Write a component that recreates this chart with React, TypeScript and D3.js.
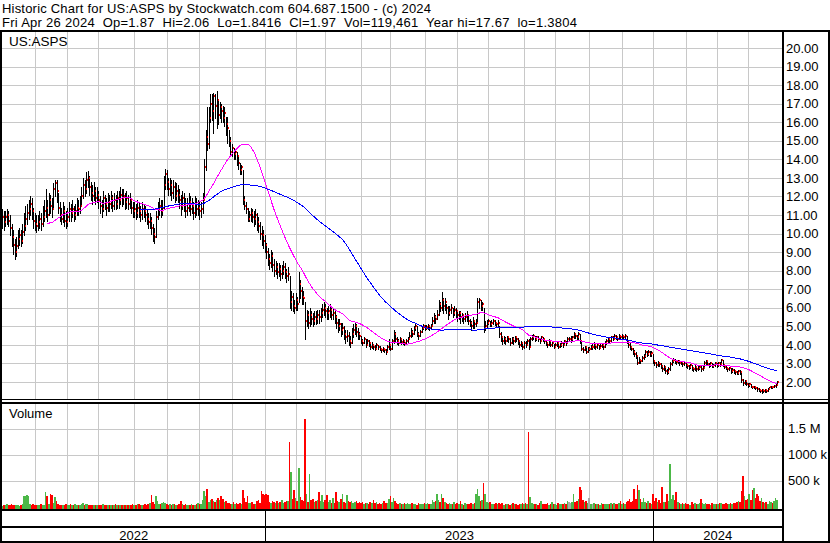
import React from "react";
import * as d3 from "d3";

// ---- Daily OHLC (high / low / close) for US:ASPS, May 2 2022 .. Apr 26 2024 ----
const highs = [
11.3,11.2,11.2,11.3,11.2,11.0,10.5,10.2,9.7,9.8,
10.2,10.3,10.2,10.5,11.1,11.5,11.6,11.8,12.0,11.9,
11.4,11.1,11.0,11.0,11.2,11.1,11.5,11.8,12.4,11.8,
12.2,12.1,11.9,12.7,12.9,12.9,12.2,11.7,11.4,11.7,
11.5,11.2,11.4,11.7,11.6,11.8,11.5,11.6,11.9,11.8,
12.0,12.5,13.0,12.9,13.3,13.35,13.1,12.8,12.6,12.8,
12.5,12.5,12.3,12.0,11.8,12.3,12.1,11.9,12.2,12.1,
12.3,12.1,12.2,12.1,12.3,12.3,12.5,12.4,12.4,12.2,
12.3,12.1,12.2,11.9,11.7,11.7,11.6,11.8,11.7,11.5,
11.7,11.6,11.5,11.3,11.1,11.1,10.9,10.5,10.3,11.2,
11.7,11.9,11.8,11.8,13.1,13.5,13.4,13.0,13.0,12.9,
12.9,12.8,12.7,12.6,12.4,12.1,12.3,12.2,11.9,11.9,
12.2,12.0,11.9,11.7,12.0,11.9,11.8,11.7,11.7,12.2,
14.0,15.6,16.8,16.8,17.5,17.5,17.6,17.5,17.67,17.2,
17.1,17.0,16.9,16.8,16.3,16.3,15.6,15.2,14.8,14.6,
14.5,14.4,14.2,13.8,13.7,13.4,12.0,11.7,11.4,11.2,
11.4,11.3,11.2,11.3,11.1,10.9,10.6,10.4,10.2,9.9,
9.5,9.2,8.9,9.1,9.0,8.6,8.5,8.4,8.4,8.3,
8.3,8.5,8.4,8.1,8.2,7.7,6.9,6.8,6.4,6.8,
6.6,7.9,7.5,7.1,6.9,6.3,5.9,5.8,6.0,5.8,
5.7,5.8,5.8,5.9,5.9,6.0,6.2,6.3,6.2,6.0,
6.1,6.2,6.0,6.0,5.9,5.6,5.4,5.4,5.2,5.2,
5.0,4.8,4.8,4.7,4.5,4.9,5.1,5.2,5.1,4.9,
4.7,4.5,4.3,4.4,4.3,4.3,4.25,4.1,4.15,4.05,
4.0,4.1,4.0,3.95,3.85,3.9,3.85,3.75,4.0,4.3,
4.0,4.3,4.8,4.7,4.4,4.3,4.4,4.35,4.3,4.25,
4.3,4.4,4.7,4.9,4.8,5.0,5.1,5.0,4.7,4.8,
5.0,5.1,5.05,5.05,5.1,5.0,5.1,5.5,5.7,5.6,
5.9,6.4,6.3,6.85,6.5,6.5,6.2,6.1,6.1,6.2,
6.0,6.1,6.0,5.8,5.8,5.8,5.7,5.6,5.7,5.8,
5.6,5.4,5.3,5.5,5.3,5.4,6.5,6.5,6.4,6.3,
6.0,5.3,5.35,5.4,5.3,5.35,5.4,5.35,5.25,5.35,
5.0,4.7,4.5,4.45,4.4,4.5,4.5,4.35,4.4,4.4,
4.5,4.5,4.35,4.25,4.2,4.1,4.2,4.2,4.3,4.3,
4.4,4.55,4.6,4.5,4.5,4.45,4.35,4.5,4.4,4.35,
4.25,4.15,4.3,4.2,4.2,4.05,4.1,4.2,4.05,4.1,
4.2,4.15,4.25,4.2,4.4,4.4,4.45,4.5,4.7,4.6,
4.55,4.7,4.6,4.2,3.9,3.95,3.9,3.9,3.9,4.0,
4.05,4.15,4.0,4.1,4.0,4.05,4.1,4.05,4.2,4.3,
4.4,4.35,4.5,4.45,4.6,4.55,4.4,4.6,4.5,4.6,
4.55,4.6,4.5,4.25,4.1,3.95,3.85,3.7,3.6,3.4,
3.35,3.25,3.4,3.5,3.7,3.65,3.7,3.65,3.65,3.5,
3.2,3.05,3.1,3.05,3.0,2.9,2.9,2.8,2.7,2.8,
3.05,3.2,3.3,3.25,3.15,3.2,3.1,3.15,3.05,3.1,
3.0,2.95,2.9,2.95,2.9,2.8,2.9,2.8,2.85,2.9,
2.85,2.85,3.1,3.2,3.15,3.0,3.05,3.0,2.95,3.05,
3.0,3.05,3.05,3.25,3.2,2.95,2.85,2.8,2.8,2.75,
2.75,2.7,2.65,2.6,2.65,2.65,2.5,2.15,2.1,2.05,
1.95,1.95,1.9,1.8,1.8,1.75,1.7,1.65,1.6,1.6,
1.6,1.6,1.6,1.65,1.75,1.8,1.8,1.85,1.9,2.06,
];

const lows = [
10.3,10.2,10.4,10.5,10.4,9.9,9.3,8.9,8.6,8.8,
9.2,9.4,9.3,9.5,9.9,10.2,10.5,10.8,11.0,10.8,
10.3,10.2,10.1,10.2,10.3,10.2,10.4,10.7,10.9,10.7,
11.0,11.1,10.9,11.3,12.0,11.7,11.1,10.7,10.5,10.6,
10.4,10.3,10.4,10.7,10.7,10.9,10.7,10.8,11.0,11.0,
11.1,11.5,11.9,12.0,12.2,12.5,12.1,11.8,11.6,11.8,
11.6,11.7,11.4,11.1,10.9,11.2,11.3,11.0,11.2,11.2,
11.4,11.2,11.3,11.3,11.4,11.4,11.6,11.5,11.6,11.3,
11.4,11.3,11.4,11.1,10.9,10.9,10.8,10.9,10.9,10.7,
10.8,10.9,10.7,10.5,10.3,10.3,10.0,9.6,9.5,9.8,
10.8,11.0,10.9,11.0,11.4,12.4,12.4,12.1,12.1,11.8,
11.9,11.7,11.8,11.7,11.4,11.0,11.3,11.2,10.9,11.0,
11.2,11.0,11.1,10.8,10.9,11.0,11.0,10.8,10.9,11.1,
11.9,13.4,14.5,14.6,16.0,16.1,15.4,16.2,15.7,15.9,
16.2,16.0,16.0,15.8,15.3,14.9,14.7,14.3,14.2,14.0,
14.0,13.7,13.5,13.2,13.2,11.6,11.3,11.1,10.7,10.7,
10.7,10.6,10.4,10.5,10.2,10.1,9.7,9.4,9.2,9.0,
8.7,8.3,8.1,8.2,8.0,7.7,7.8,7.6,7.7,7.5,
7.6,7.8,7.6,7.4,7.5,6.0,5.9,5.8,5.7,5.9,
5.9,6.3,6.5,6.2,6.2,4.3,5.0,4.9,5.0,5.1,
5.0,5.1,5.1,5.2,5.2,5.3,5.5,5.6,5.5,5.4,
5.4,5.5,5.4,5.4,5.2,4.9,4.7,4.8,4.5,4.6,
4.3,4.1,4.2,4.0,3.9,4.1,4.4,4.6,4.5,4.3,
4.3,4.1,4.0,4.1,3.9,4.0,3.95,3.8,3.85,3.8,
3.7,3.8,3.75,3.7,3.6,3.65,3.6,3.5,3.6,3.8,
3.7,3.8,4.1,4.2,4.05,4.0,4.1,4.05,4.05,4.0,
4.05,4.15,4.3,4.4,4.5,4.6,4.8,4.5,4.3,4.5,
4.7,4.85,4.8,4.85,4.85,4.8,4.85,5.0,5.2,5.2,
5.4,5.6,5.8,5.9,5.7,5.9,5.7,5.4,5.6,5.7,
5.5,5.6,5.5,5.3,5.4,5.2,5.3,5.15,5.3,5.3,
5.1,5.0,4.8,4.9,4.9,5.0,5.2,6.0,5.9,5.9,
4.7,4.8,4.95,5.1,5.0,5.0,5.1,5.05,5.0,5.0,
4.4,4.2,4.05,4.1,4.05,4.2,4.15,4.0,4.1,4.05,
4.15,4.2,4.05,3.9,3.95,3.8,3.85,3.9,4.0,3.8,
4.0,4.25,4.3,4.2,4.25,4.2,4.1,4.2,4.2,4.1,
4.0,3.9,4.0,3.95,3.95,3.85,3.9,3.95,3.85,3.9,
3.95,3.9,4.0,4.0,4.1,4.2,4.15,4.25,4.35,4.35,
4.3,4.3,4.1,3.7,3.6,3.7,3.55,3.6,3.7,3.75,
3.8,3.85,3.8,3.85,3.8,3.85,3.9,3.8,3.9,4.05,
4.15,4.1,4.2,4.25,4.3,4.3,4.25,4.3,4.3,4.35,
4.3,4.35,4.1,3.9,3.8,3.7,3.5,3.4,3.3,2.95,
3.0,3.0,3.1,3.25,3.35,3.4,3.45,3.4,3.4,3.0,
2.9,2.8,2.85,2.85,2.75,2.6,2.65,2.5,2.45,2.5,
2.65,2.9,3.05,3.0,2.95,3.0,2.9,2.95,2.85,2.9,
2.8,2.75,2.7,2.75,2.65,2.6,2.65,2.6,2.65,2.7,
2.6,2.65,2.75,2.95,2.9,2.8,2.85,2.8,2.8,2.85,
2.8,2.85,2.85,2.9,2.85,2.75,2.7,2.6,2.65,2.5,
2.55,2.5,2.45,2.4,2.45,2.45,2.0,1.85,1.9,1.85,
1.75,1.8,1.7,1.65,1.65,1.6,1.5,1.5,1.45,1.38,
1.45,1.45,1.45,1.5,1.6,1.65,1.65,1.7,1.75,1.84,
];

const closes = [
10.9,10.6,10.9,11.0,10.7,10.3,9.8,9.4,9.0,9.3,
9.7,9.9,9.6,10.1,10.4,10.8,11.1,11.3,11.6,11.2,
10.7,10.5,10.4,10.6,10.8,10.5,10.9,11.2,11.4,11.0,
11.8,11.5,11.3,12.4,12.7,12.3,11.4,11.0,10.8,11.2,
10.7,10.6,10.9,11.3,11.1,11.3,11.0,11.2,11.4,11.3,
11.5,12.0,12.6,12.4,12.9,13.0,12.5,12.2,12.0,12.3,
11.9,12.1,11.8,11.5,11.3,11.9,11.6,11.4,11.7,11.6,
11.9,11.5,11.8,11.6,11.9,11.8,12.1,11.9,12.0,11.7,
11.9,11.6,11.8,11.4,11.2,11.3,11.1,11.4,11.2,11.0,
11.3,11.2,11.0,10.8,10.6,10.7,10.3,10.0,9.8,10.9,
11.3,11.5,11.2,11.4,12.6,13.2,12.8,12.4,12.6,12.2,
12.5,12.0,12.3,12.1,11.8,11.5,11.9,11.6,11.2,11.4,
11.7,11.3,11.5,11.1,11.6,11.3,11.4,11.2,11.3,11.8,
13.6,15.2,14.8,16.2,17.0,16.6,17.4,16.9,17.2,16.4,
16.8,16.6,16.2,16.5,15.9,15.7,15.0,14.4,14.6,14.3,
14.4,14.2,13.8,13.4,13.6,11.8,11.5,11.3,10.8,11.0,
11.1,10.9,10.8,11.0,10.6,10.4,10.0,9.9,9.6,9.4,
9.0,8.6,8.4,8.8,8.3,8.0,8.2,7.9,8.1,7.8,
8.0,8.2,7.9,7.7,7.8,6.3,6.6,6.1,6.0,6.4,
6.2,7.3,6.9,6.6,6.5,5.3,5.6,5.2,5.6,5.4,
5.3,5.5,5.4,5.6,5.5,5.7,5.9,6.0,5.8,5.7,
5.8,5.9,5.6,5.7,5.5,5.2,5.0,5.1,4.8,4.9,
4.6,4.4,4.5,4.2,4.1,4.6,4.8,5.0,4.7,4.6,
4.5,4.2,4.1,4.3,4.0,4.2,4.1,3.9,4.0,3.9,
3.8,4.0,3.9,3.8,3.7,3.8,3.7,3.6,3.9,4.0,
3.8,4.2,4.6,4.3,4.2,4.1,4.3,4.15,4.2,4.1,
4.2,4.3,4.5,4.7,4.6,4.9,5.0,4.6,4.5,4.7,
4.9,5.0,4.9,4.95,5.0,4.9,5.0,5.3,5.5,5.4,
5.6,6.2,6.0,6.4,6.1,6.3,6.0,5.7,5.9,6.0,
5.7,5.9,5.8,5.6,5.7,5.5,5.6,5.4,5.5,5.6,
5.3,5.2,5.0,5.3,5.1,5.2,6.3,6.4,6.1,6.2,
4.9,5.0,5.2,5.3,5.1,5.2,5.3,5.2,5.1,5.2,
4.6,4.4,4.2,4.3,4.2,4.4,4.3,4.1,4.3,4.2,
4.4,4.3,4.2,4.0,4.1,3.9,4.1,4.0,4.2,3.9,
4.3,4.4,4.5,4.3,4.4,4.3,4.2,4.4,4.3,4.2,
4.1,4.0,4.2,4.0,4.1,3.9,4.0,4.1,3.9,4.0,
4.1,4.0,4.2,4.1,4.3,4.3,4.3,4.4,4.6,4.5,
4.4,4.6,4.2,3.8,3.7,3.9,3.6,3.8,3.8,3.9,
3.9,4.0,3.9,4.0,3.85,3.95,4.0,3.9,4.1,4.2,
4.3,4.2,4.4,4.3,4.5,4.4,4.3,4.5,4.4,4.5,
4.4,4.5,4.2,4.0,3.9,3.8,3.6,3.5,3.4,3.0,
3.2,3.1,3.3,3.4,3.6,3.5,3.6,3.5,3.55,3.1,
3.0,2.9,3.0,2.95,2.85,2.7,2.8,2.6,2.55,2.7,
2.95,3.1,3.2,3.1,3.05,3.1,3.0,3.05,2.95,3.0,
2.9,2.85,2.8,2.9,2.75,2.7,2.8,2.7,2.75,2.8,
2.7,2.75,3.0,3.1,2.95,2.9,3.0,2.85,2.9,3.0,
2.9,3.0,2.95,3.2,2.9,2.8,2.75,2.7,2.75,2.6,
2.65,2.6,2.55,2.5,2.6,2.55,2.1,1.95,2.05,1.9,
1.85,1.9,1.75,1.7,1.75,1.65,1.6,1.55,1.5,1.55,
1.5,1.55,1.5,1.6,1.7,1.75,1.7,1.8,1.85,1.97,
];

// daily volume, thousands of shares
const volumes = [
15,20,35,40,30,25,45,38,30,20,
25,15,30,40,210,205,215,200,40,30,
55,25,30,20,35,45,30,20,270,200,
45,240,230,60,175,110,40,30,25,35,
30,40,25,35,45,30,20,40,35,25,
30,45,60,35,40,55,30,25,35,20,
30,25,20,35,30,45,25,20,30,35,
25,30,20,40,30,25,35,20,30,25,
20,35,25,30,40,25,30,55,45,30,
35,25,40,30,45,60,220,80,50,200,
110,50,40,60,90,60,50,35,45,30,
40,55,35,30,45,110,40,30,50,35,
25,30,45,20,25,40,60,45,50,120,
290,200,336,90,120,150,100,80,130,160,
120,200,140,80,100,60,70,50,45,80,
55,60,40,70,50,320,160,90,200,70,
60,80,50,45,100,120,70,290,240,230,
240,220,90,60,110,80,60,100,70,90,
130,60,80,110,100,1235,658,150,320,170,
110,740,180,130,100,1683,240,90,625,120,
150,90,110,130,272,100,230,80,120,230,
90,130,70,160,60,272,100,80,140,240,
90,60,230,110,80,100,60,80,110,70,
90,60,80,50,70,60,45,90,60,130,
60,80,50,70,45,60,100,70,60,140,
200,90,170,110,60,45,70,40,55,60,
40,70,55,40,60,45,50,35,60,45,
55,40,60,45,70,50,40,130,90,110,
240,130,90,240,170,90,60,45,70,40,
55,80,45,60,40,110,50,35,60,45,
50,40,65,45,60,240,336,208,100,120,
452,240,90,60,80,45,55,40,60,50,
70,45,60,35,50,40,55,30,45,60,
40,55,35,50,45,60,40,70,50,1427,
176,60,50,40,55,35,60,110,45,50,
40,60,35,55,90,40,50,35,60,45,
50,40,60,45,110,80,60,90,240,80,
110,150,370,320,120,80,100,60,170,50,
40,60,45,55,40,35,60,45,50,40,
55,45,60,40,70,50,45,60,110,50,
60,45,80,100,140,90,110,336,150,420,
317,150,90,160,80,60,110,70,50,240,
100,160,80,120,60,370,90,80,240,110,
817,140,230,120,270,90,60,45,70,50,
60,40,55,35,80,45,60,40,50,70,
140,60,45,70,40,55,35,60,45,40,
50,45,60,70,55,40,60,50,45,60,
55,70,60,80,110,90,300,587,208,130,
150,240,120,320,350,160,250,200,110,170,
80,60,90,50,110,80,60,100,170,119,
];

const priceTicks = [2,3,4,5,6,7,8,9,10,11,12,13,14,15,16,17,18,19,20];
const volumeTicks = [500, 1000, 1500];
const volumeTickLabels = ["500 k", "1000 k", "1.5 M"];
const maWindows = [30, 90];
const maColors = ["#ff00ff", "#0000ff"];

const startDate = "2022-05-02";
const endDate = "2024-04-26";
const holidays = [
  "2022-05-30","2022-06-20","2022-07-04","2022-09-05","2022-11-24","2022-12-26",
  "2023-01-02","2023-01-16","2023-02-20","2023-04-07","2023-05-29","2023-06-19",
  "2023-07-04","2023-09-04","2023-11-23","2023-12-25",
  "2024-01-01","2024-01-15","2024-02-19","2024-03-29",
];

const title = "Historic Chart for US:ASPS by Stockwatch.com 604.687.1500 - (c) 2024";
const infoLine = "Fri Apr 26 2024  Op=1.87  Hi=2.06  Lo=1.8416  Cl=1.97  Vol=119,461  Year hi=17.67  lo=1.3804";
const symbol = "US:ASPS";

const FONT = "'Liberation Sans', Arial, Helvetica, sans-serif";
const GRID = "#c8c8c8";
const UP = "#4cb848";
const DOWN = "#ff0000";
const FLAT = "#a8a8a8";

function tradingDays(): Date[] {
  const parse = d3.timeParse("%Y-%m-%d");
  const fmt = d3.timeFormat("%Y-%m-%d");
  const hol = new Set(holidays);
  const s = parse(startDate) as Date;
  const e = d3.timeDay.offset(parse(endDate) as Date, 1);
  return d3.timeDay.range(s, e).filter(
    (d) => d.getDay() !== 0 && d.getDay() !== 6 && !hol.has(fmt(d))
  );
}

function movingAverage(values: number[], n: number): (number | null)[] {
  return values.map((_, i) =>
    i < n - 1 ? null : (d3.mean(values.slice(i - n + 1, i + 1)) as number)
  );
}

export default function App() {
  const W = 830, H = 543;
  const N = closes.length;
  const dates = tradingDays().slice(0, N);

  const left = 2, right = 782;
  const priceTop = 32, priceBottom = 399.5;
  const volTop = 403.5, volBottom = 509.5;

  const x = d3.scaleLinear().domain([0, N - 1]).range([2.2, 2.2 + 1.553 * (N - 1)]);
  const yP = d3.scaleLinear().domain([2, 20]).range([381.9, 48]);
  const yV = d3.scaleLinear().domain([0, 1500]).range([506.5, 428.5]);

  const idx = d3.range(N);
  const monthStarts = idx.filter(
    (i) => i > 0 && i < dates.length && dates[i].getMonth() !== dates[i - 1].getMonth()
  );
  const yearStarts = monthStarts.filter(
    (i) => dates[i].getFullYear() !== dates[i - 1].getFullYear()
  );
  const gx = (i: number) => Math.round(x(i)) + 0.5;

  const yearBounds = [left, ...yearStarts.map(gx), right];
  const yearLabels = [dates[0], ...yearStarts.map((i) => dates[i])].map((d) =>
    String(d.getFullYear())
  );

  const mas = maWindows.map((n) => movingAverage(closes, n));
  const line = d3
    .line<number | null>()
    .defined((v) => v != null)
    .x((_, i) => x(i))
    .y((v) => yP(v as number));

  const volColor = (i: number) => {
    if (i === 0) return UP;
    if (closes[i] > closes[i - 1]) return UP;
    if (closes[i] < closes[i - 1]) return DOWN;
    return FLAT;
  };
  const vx = (i: number) => Math.round(x(i) - 0.7765);

  return (
    <svg
      width={W}
      height={H}
      viewBox={`0 0 ${W} ${H}`}
      style={{ position: "absolute", left: 0, top: 0, display: "block", background: "#fff" }}
      fontFamily={FONT}
    >
      <rect x={0} y={0} width={W} height={H} fill="#fff" />

      {/* header */}
      <text x={2} y={12.7} fontSize={13} fill="#000" xmlSpace="preserve" textLength={429} lengthAdjust="spacing" style={{ whiteSpace: "pre" }}>
        {title}
      </text>
      <text x={2} y={26.7} fontSize={13} fill="#000" xmlSpace="preserve" textLength={575} lengthAdjust="spacing" style={{ whiteSpace: "pre" }}>
        {infoLine}
      </text>

      {/* grids */}
      <g shapeRendering="crispEdges" stroke={GRID} strokeWidth={1}>
        {priceTicks.map((p) => (
          <line key={"hp" + p} x1={left} x2={right} y1={Math.round(yP(p)) + 0.5} y2={Math.round(yP(p)) + 0.5} />
        ))}
        {monthStarts.map((i) => (
          <line key={"vp" + i} x1={gx(i)} x2={gx(i)} y1={priceTop} y2={priceBottom} />
        ))}
        {volumeTicks.map((v) => (
          <line key={"hv" + v} x1={left} x2={right} y1={Math.round(yV(v)) + 0.5} y2={Math.round(yV(v)) + 0.5} />
        ))}
        {monthStarts.map((i) => (
          <line key={"vv" + i} x1={gx(i)} x2={gx(i)} y1={volTop} y2={volBottom} />
        ))}
      </g>

      {/* price bars: black high-low line */}
      <g shapeRendering="crispEdges" fill="#000">
        {idx.map((i) => {
          const cx = Math.round(x(i));
          const yh = Math.round(yP(highs[i]));
          const yl = Math.round(yP(lows[i]));
          return <rect key={"b" + i} x={cx} y={yh} width={1} height={Math.max(1, yl - yh + 1)} />;
        })}
      </g>
      {/* red close ticks */}
      <g shapeRendering="crispEdges" fill="#ff0000">
        {idx.map((i) => {
          const cx = Math.round(x(i));
          const yc = Math.round(yP(closes[i]));
          return <rect key={"c" + i} x={cx + 1} y={yc - 1} width={1} height={2} />;
        })}
      </g>

      {/* moving averages */}
      <g fill="none" strokeWidth={1} shapeRendering="crispEdges">
        {mas.map((m, k) => (
          <path key={"ma" + k} d={line(m) || ""} stroke={maColors[k]} />
        ))}
      </g>

      {/* volume bars */}
      <g shapeRendering="crispEdges">
        {idx.map((i) => {
          const x0 = vx(i);
          const x1 = i < N - 1 ? vx(i + 1) : x0 + 2;
          const y0 = Math.round(yV(volumes[i]));
          return (
            <rect key={"v" + i} x={x0} y={y0} width={Math.max(1, x1 - x0)} height={Math.max(1, volBottom - y0)} fill={volColor(i)} />
          );
        })}
      </g>

      {/* labels */}
      <text x={9} y={46} fontSize={13.5} fill="#000">{symbol}</text>
      <text x={9} y={417.5} fontSize={13} fill="#000">Volume</text>
      {priceTicks.map((p) => (
        <text key={"pl" + p} x={786} y={yP(p) + 4.7} fontSize={13} fill="#000">
          {p.toFixed(2)}
        </text>
      ))}
      {volumeTicks.map((v, k) => (
        <text key={"vl" + v} x={788} y={yV(v) + 4.7} fontSize={13} fill="#000">
          {volumeTickLabels[k]}
        </text>
      ))}
      {yearLabels.map((lab, k) => (
        <text
          key={"yl" + lab}
          x={(yearBounds[k] + yearBounds[k + 1]) / 2}
          y={539.5}
          fontSize={13}
          textAnchor="middle"
          fill="#000"
        >
          {lab}
        </text>
      ))}

      {/* frame lines */}
      <g shapeRendering="crispEdges" fill="#000">
        <rect x={0} y={30} width={W} height={2} />
        <rect x={0} y={32} width={2} height={511} />
        <rect x={782} y={32} width={2} height={511} />
        <rect x={828} y={32} width={2} height={511} />
        <rect x={0} y={399} width={W} height={1} />
        <rect x={0} y={402} width={W} height={2} />
        <rect x={0} y={509} width={right} height={2} />
        <rect x={0} y={526} width={right} height={2} />
        <rect x={0} y={541} width={W} height={2} />
        {yearStarts.map((i) => (
          <rect key={"yd" + i} x={Math.round(x(i))} y={511} width={1} height={30} />
        ))}
      </g>
    </svg>
  );
}
